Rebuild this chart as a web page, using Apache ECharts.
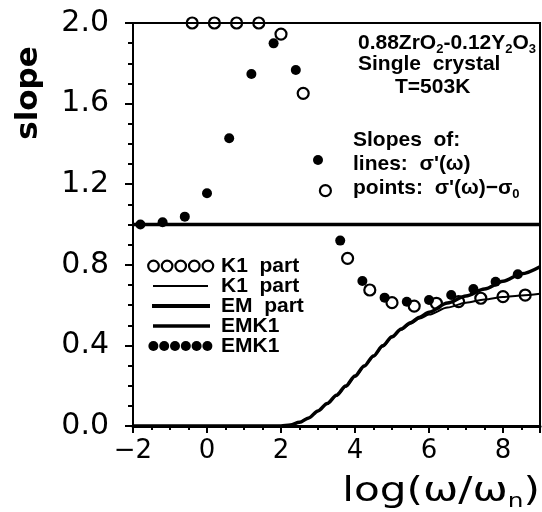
<!DOCTYPE html>
<html><head><meta charset="utf-8">
<script src="https://cdn.jsdelivr.net/npm/echarts@6/dist/echarts.min.js"></script>
<style>html,body{margin:0;padding:0;background:#fff}#c{width:542px;height:512px}</style>
</head><body><div id="c"></div>
<script>
// Open circles: slopes of sigma'(w)-sigma0, K1 part
const k1PointX = [-0.4, 0.2, 0.8, 1.4, 2.0, 2.6, 3.2, 3.8, 4.4, 5.0, 5.6, 6.2, 6.8, 7.4, 8.0, 8.6];
const k1PointY = [2.0, 2.0, 2.0, 2.0, 1.945, 1.651, 1.168, 0.832, 0.675, 0.612, 0.595, 0.609, 0.617, 0.634, 0.642, 0.65];
// Filled dots: EMK1
const emk1PointX = [-1.8, -1.2, -0.6, 0.0, 0.6, 1.2, 1.8, 2.4, 3.0, 3.6, 4.2, 4.8, 5.4, 6.0, 6.6, 7.2, 7.8, 8.4];
const emk1PointY = [1.0, 1.011, 1.039, 1.155, 1.428, 1.747, 1.899, 1.767, 1.32, 0.92, 0.72, 0.637, 0.617, 0.625, 0.65, 0.68, 0.716, 0.753];
// Lines: slopes of sigma'(w)
const k1LineX = [-2, 2.0, 2.25, 2.5, 2.75, 3.0, 3.25, 3.5, 3.75, 4.0, 4.25, 4.5, 4.75, 5.0, 5.25, 5.5, 5.75, 6.0, 6.5, 7.0, 7.5, 8.0, 8.5, 9.0];
const k1LineY = [0, 0, 0.005, 0.018, 0.04, 0.075, 0.11, 0.15, 0.195, 0.245, 0.295, 0.345, 0.395, 0.44, 0.478, 0.508, 0.533, 0.553, 0.588, 0.612, 0.628, 0.64, 0.648, 0.656];
const emk1LineX = [-2, 2.0, 2.25, 2.5, 2.75, 3.0, 3.25, 3.5, 3.75, 4.0, 4.25, 4.5, 4.75, 5.0, 5.25, 5.5, 5.75, 6.0, 6.5, 7.0, 7.5, 8.0, 8.5, 9.0];
const emk1LineY = [0, 0, 0.005, 0.018, 0.04, 0.075, 0.112, 0.153, 0.198, 0.248, 0.298, 0.348, 0.398, 0.443, 0.482, 0.513, 0.54, 0.565, 0.61, 0.645, 0.68, 0.718, 0.755, 0.79];
const emLineX = [-2, 9];
const emLineY = [1.0, 1.0];
const xTicks = { min: -2, max: 9, interval: 2 };
const yTicks = { min: 0, max: 2, interval: 0.4 };
const legendLabels = ['K1  part', 'K1  part', 'EM  part', 'EMK1', 'EMK1'];

const zip = (a, b) => a.map((v, i) => [v, b[i]]);
const chart = echarts.init(document.getElementById('c'));
const txtFont = 'Liberation Sans';
const legendRows = [266, 286, 306, 326, 346];
const legendGraphics = [];
// row 0: five open circles
for (let i = 0; i < 5; i++) legendGraphics.push({type:'circle', shape:{cx:153.5 + i*13.6, cy:legendRows[0], r:5.3}, style:{fill:'none', stroke:'#000', lineWidth:2.2}});
legendGraphics.push({type:'line', shape:{x1:153, y1:legendRows[1], x2:208, y2:legendRows[1]}, style:{stroke:'#000', lineWidth:2}});
legendGraphics.push({type:'line', shape:{x1:152, y1:legendRows[2], x2:210, y2:legendRows[2]}, style:{stroke:'#000', lineWidth:4}});
legendGraphics.push({type:'line', shape:{x1:153, y1:legendRows[3], x2:210, y2:legendRows[3]}, style:{stroke:'#000', lineWidth:3.5}});
for (let i = 0; i < 6; i++) legendGraphics.push({type:'circle', shape:{cx:153.4 + i*10.8, cy:legendRows[4], r:5}, style:{fill:'#000'}});
legendLabels.forEach((t, i) => legendGraphics.push({type:'text', x:221, y:legendRows[i], style:{text:t, font:'bold 21px ' + txtFont, fill:'#000', align:'left', verticalAlign:'middle'}}));

const annFont = 'bold 21px ' + txtFont;
const rich = {
  a: {font: annFont, fill:'#000', lineHeight: 24, verticalAlign:'bottom'},
  s: {font: 'bold 13px ' + txtFont, fill:'#000', lineHeight: 24, verticalAlign:'bottom', padding:[0,0,-2,0]}
};
const annotations = [
  {x:358, y:42, text:'{a|0.88ZrO}{s|2}{a|-0.12Y}{s|2}{a|O}{s|3}'},
  {x:358, y:63, text:'{a|Single  crystal}'},
  {x:395, y:86, text:'{a|T=503K}'},
  {x:353, y:139, text:'{a|Slopes  of:}'},
  {x:353, y:163, text:"{a|lines:  σ'(ω)}"},
  {x:353, y:187, text:"{a|points:  σ'(ω)−σ}{s|0}"}
];
const annGraphics = annotations.map(a => ({type:'text', x:a.x, y:a.y, style:{text:a.text, rich, align:'left', verticalAlign:'middle', fill:'#000'}}));

chart.setOption({
  animation: false,
  backgroundColor: '#fff',
  grid: {left:133, right:2, top:23, bottom:86, show:true, borderColor:'#000', borderWidth:2, backgroundColor:'transparent'},
  xAxis: {
    type:'value', min:xTicks.min, max:xTicks.max, interval:xTicks.interval,
    axisLine:{show:true, onZero:false, lineStyle:{color:'#000', width:3}},
    axisTick:{show:true, inside:false, length:7, lineStyle:{color:'#000', width:2}},
    minorTick:{show:true, splitNumber:4, length:4, lineStyle:{color:'#000', width:2}},
    splitLine:{show:false},
    axisLabel:{show:true, showMaxLabel:false, margin:12, color:'#000', fontFamily:'DejaVu Sans', fontSize:26,
      formatter: v => String(v).replace('-', '−')}
  },
  yAxis: {
    type:'value', min:yTicks.min, max:yTicks.max, interval:yTicks.interval,
    axisLine:{show:true, onZero:false, lineStyle:{color:'#000', width:2}},
    axisTick:{show:true, inside:false, length:8, lineStyle:{color:'#000', width:2}},
    minorTick:{show:true, splitNumber:4, length:5, lineStyle:{color:'#000', width:2}},
    splitLine:{show:false},
    axisLabel:{margin:24, color:'#000', fontFamily:'DejaVu Sans', fontSize:30, formatter: v => v.toFixed(1)}
  },
  series: [
    {name:'EM part', type:'line', data:zip(emLineX, emLineY), showSymbol:false, lineStyle:{color:'#000', width:3.5}, z:3},
    {name:'K1 part', type:'line', data:zip(k1LineX, k1LineY), showSymbol:false, smooth:0.3, smoothMonotone:'x', lineStyle:{color:'#000', width:2}, z:3},
    {name:'EMK1', type:'line', data:zip(emk1LineX, emk1LineY), showSymbol:false, smooth:0.3, smoothMonotone:'x', lineStyle:{color:'#000', width:3.5}, z:3},
    {name:'K1 part points', type:'scatter', data:zip(k1PointX, k1PointY), symbol:'circle', symbolSize:11, clip:false,
      itemStyle:{color:'rgba(0,0,0,0)', borderColor:'#000', borderWidth:2.2, opacity:1}, z:5},
    {name:'EMK1 points', type:'scatter', data:zip(emk1PointX, emk1PointY), symbol:'circle', symbolSize:10, clip:false,
      itemStyle:{color:'#000', opacity:1}, z:5}
  ],
  graphic: [
    {type:'text', x:29, y:93, rotation:Math.PI/2, style:{text:'slope', font:'bold 31px DejaVu Sans', fill:'#000', align:'center', verticalAlign:'middle'}},
    {type:'text', x:540, y:489, scaleX:1.24, style:{text:'{m|log(ω/ω}{n|n}{m|)}', align:'right', verticalAlign:'middle', fill:'#000',
      rich:{m:{font:'34px DejaVu Sans', fill:'#000', lineHeight:40, verticalAlign:'bottom'}, n:{font:'20px DejaVu Sans', fill:'#000', lineHeight:40, verticalAlign:'bottom', padding:[0,0,-3,0]}}}},
    ...legendGraphics,
    ...annGraphics
  ]
});
</script></body></html>
